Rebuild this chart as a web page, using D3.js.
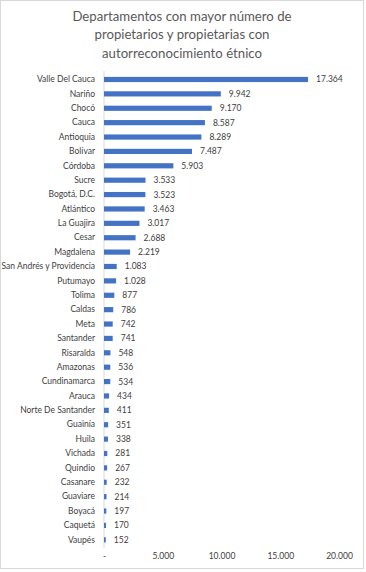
<!DOCTYPE html>
<html><head><meta charset="utf-8">
<script src="https://cdn.jsdelivr.net/npm/d3@7"></script>
<style>html,body{margin:0;padding:0;background:#fff;}svg{display:block;}</style>
</head><body>
<script>
const titleLines = ["Departamentos con mayor número de", "propietarios y propietarias con", "autorreconocimiento étnico"];
const categories = ["Valle Del Cauca","Nariño","Chocó","Cauca","Antioquia","Bolívar","Córdoba","Sucre","Bogotá, D.C.","Atlántico","La Guajira","Cesar","Magdalena","San Andrés y Providencia","Putumayo","Tolima","Caldas","Meta","Santander","Risaralda","Amazonas","Cundinamarca","Arauca","Norte De Santander","Guainía","Huila","Vichada","Quindio","Casanare","Guaviare","Boyacá","Caquetá","Vaupés"];
const values = [17364,9942,9170,8587,8289,7487,5903,3533,3523,3463,3017,2688,2219,1083,1028,877,786,742,741,548,536,534,434,411,351,338,281,267,232,214,197,170,152];
const tickValues = [0,5000,10000,15000,20000];

const W = 366, H = 572;
const font = "Lato, 'Open Sans', sans-serif";
const loc = d3.formatLocale({decimal: ",", thousands: ".", grouping: [3], currency: ["$",""]});
const fmt = loc.format(",d");

const svg = d3.select("body").append("svg").attr("width", W).attr("height", H);
svg.append("rect").attr("x",0.5).attr("y",0.5).attr("width",363).attr("height",568)
  .attr("fill","#fff").attr("stroke","#d9d9d9");

svg.append("g").selectAll("text").data(titleLines).join("text")
  .attr("x", 182).attr("y", (d,i)=>21 + i*18.3)
  .attr("text-anchor","middle").attr("font-family", font).attr("font-size", 13.2)
  .attr("fill","#595959").text(d=>d);

const x = d3.scaleLinear().domain([0,20000]).range([104,339]);
const y = d3.scaleBand().domain(categories).range([72.3, 547]).paddingInner(0.64).paddingOuter(0.32);

svg.append("line").attr("x1",104).attr("x2",104).attr("y1",71).attr("y2",548)
  .attr("stroke","#d9d9d9").attr("stroke-width",1);

svg.append("g").selectAll("rect").data(values).join("rect")
  .attr("x", x(0)).attr("y",(d,i)=>y(categories[i]))
  .attr("width", d=>x(d)-x(0)).attr("height", y.bandwidth())
  .attr("fill","#4472C4");

svg.append("g").selectAll("text").data(values).join("text")
  .attr("x", d=>x(d)+8).attr("y",(d,i)=>y(categories[i])+y.bandwidth()/2)
  .attr("dy","0.35em").attr("font-family", font).attr("font-size", 8.5)
  .attr("fill","#404040").text(d=>fmt(d));

const yAxis = d3.axisLeft(y).tickSize(0).tickPadding(9);
const gy = svg.append("g").attr("transform","translate(104,0)").call(yAxis);
gy.select(".domain").remove();
gy.selectAll("text").attr("font-family", font).attr("font-size", 8.5).attr("fill","#404040");

const xAxis = d3.axisBottom(x).tickValues(tickValues).tickSize(0).tickPadding(0)
  .tickFormat(d=> d===0 ? "-" : fmt(d));
const gx = svg.append("g").attr("transform","translate(0,553)").call(xAxis);
gx.select(".domain").remove();
gx.selectAll("text").attr("font-family", font).attr("font-size", 8.5).attr("fill","#404040");
</script>
</body></html>
